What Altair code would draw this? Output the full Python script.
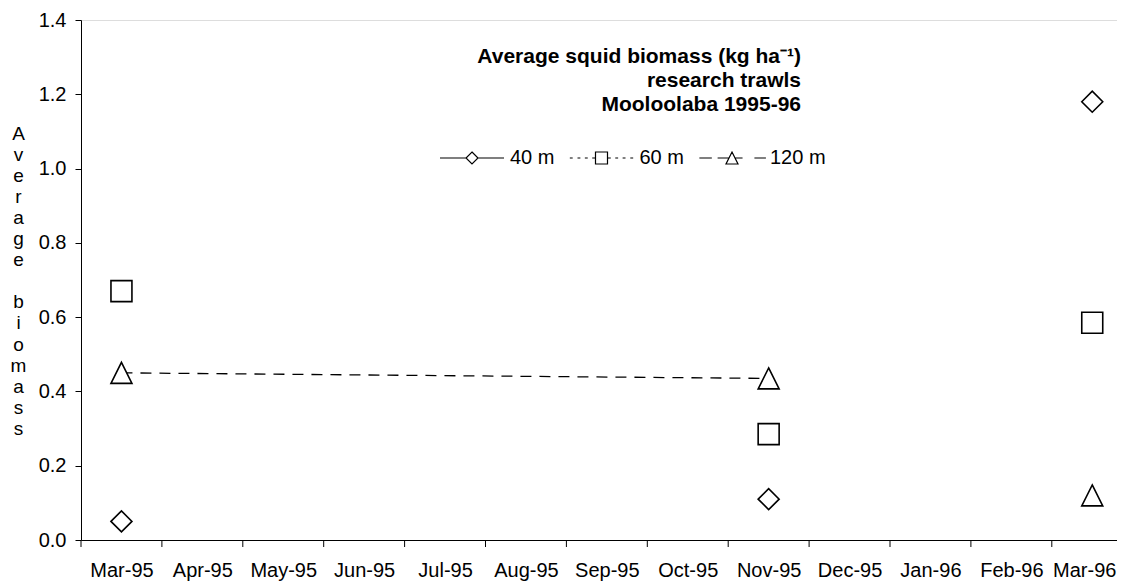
import altair as alt
import pandas as pd

# ---------------- data ----------------
months = ["Mar-95", "Apr-95", "May-95", "Jun-95", "Jul-95", "Aug-95", "Sep-95",
          "Oct-95", "Nov-95", "Dec-95", "Jan-96", "Feb-96", "Mar-96"]
series = ["40 m", "60 m", "120 m"]
survey_months = ["Mar-95", "Nov-95", "Mar-96"]
biomass_40 = [0.05, 0.11, 1.18]
biomass_60 = [0.67, 0.285, 0.585]
biomass_120 = [0.45, 0.435, 0.12]
y_ticks = [0.0, 0.2, 0.4, 0.6, 0.8, 1.0, 1.2, 1.4]
title_lines = ["Average squid biomass (kg ha\u207b\u00b9)", "research trawls", "Mooloolaba 1995-96"]
y_title = list("Average") + ["\u2800"] + list("biomass")

rows = []
for s, vals in zip(series, [biomass_40, biomass_60, biomass_120]):
    for m, v in zip(survey_months, vals):
        rows.append({"series": s, "month": m, "idx": months.index(m), "value": v})
df = pd.DataFrame(rows)
tick_df = pd.DataFrame({"month": months, "idx": list(range(len(months)))})
title_df = pd.DataFrame({"k": [0]})

# ---------------- style ----------------
FONT = "Liberation Sans"
W, H = 1036, 520
STEP = 80.9  # px per month in the reference
last = len(months) - 1

x_scale = alt.Scale(domain=[-0.5, -0.5 + W / STEP], nice=False, zero=False)
y_scale = alt.Scale(domain=[0, 1.4], nice=False, zero=True)

label_expr = "[" + ",".join("'%s'" % m for m in months) + "][datum.value]"

x_axis = alt.Axis(values=list(range(len(months))), labelExpr=label_expr, ticks=False, tickSize=0,
                  grid=False, title=None, labelFont=FONT, labelFontSize=20, labelColor="black",
                  labelPadding=20, domainColor="black", domainWidth=1, labelFlush=False,
                  labelOverlap=False,
                  labelOffset={"condition": {"test": f"datum.value == {last}", "value": -8},
                               "value": 0})
y_axis = alt.Axis(values=y_ticks, format=".1f", tickSize=6, tickColor="black", tickWidth=1,
                  domainColor="black", domainWidth=1, grid=False, labelFont=FONT,
                  labelFontSize=20, labelColor="black", labelPadding=9, labelFlush=False,
                  title=y_title, titleAngle=0, titleAlign="center", titleBaseline="middle",
                  titleX=-63, titleY=113, titleLineHeight=21.1, titleFont=FONT, titleFontSize=19,
                  titleFontWeight="normal", titleColor="black")

base = alt.Chart(df).encode(
    x=alt.X("idx:Q", scale=x_scale, axis=x_axis),
    y=alt.Y("value:Q", scale=y_scale, axis=y_axis),
)

line = base.transform_filter("datum.series == '120 m' && datum.idx <= 8").mark_line(
    color="black", strokeWidth=1.3, strokeDash=[11, 8]
)

tri_path = "M0,-1L1,1L-1,1Z"
points = base.mark_point(filled=True, fill="white", stroke="black", strokeWidth=1.6,
                         size=440, opacity=1).encode(
    shape=alt.Shape("series:N", scale=alt.Scale(domain=series, range=["diamond", "square", tri_path]),
                    legend=None)
)

m = 0.1875
legend_paths = [
    # 40 m : solid line with diamond
    f"M-1,0L-{m},0M{m},0L1,0M0,-{m}L{m},0L0,{m}L-{m},0Z",
    # 60 m : short dashes with square
    f"M-0.99,0L-0.9,0M-0.75,0L-0.66,0M-0.52,0L-0.43,0M-0.29,0L-{m},0"
    f"M{m},0L0.29,0M0.43,0L0.52,0M0.66,0L0.75,0M0.9,0L0.99,0"
    f"M-{m},-{m}L{m},-{m}L{m},{m}L-{m},{m}Z",
    # 120 m : long dashes with triangle
    "M-1.02,0L-0.63,0M-0.45,0L-0.094,0M0.094,0L0.33,0M0.70,0L1.06,0"
    f"M0,-{m}L{m},{m}L-{m},{m}Z",
]

# legend-only layer: no rows drawn, entries come from the explicit shape domain
legend_layer = base.transform_filter("false").mark_point(
    filled=False, color="black", strokeWidth=1.2, size=4096
).encode(
    shape=alt.Shape(
        "series:N",
        scale=alt.Scale(domain=series, range=legend_paths),
        legend=alt.Legend(title=None, orient="none", legendX=358, legendY=105,
                          direction="horizontal", columns=3, symbolSize=4096,
                          symbolStrokeColor="black", symbolStrokeWidth=1.2, symbolOpacity=1,
                          labelFont=FONT, labelFontSize=20, labelColor="black", labelOffset=5,
                          columnPadding=11.5, padding=0),
    )
)

ticks = alt.Chart(tick_df).transform_calculate(pos="datum.idx - 0.5").mark_rule(
    color="black", strokeWidth=1
).encode(
    x=alt.X("pos:Q", scale=x_scale, axis=x_axis),
    y=alt.value(H),
    y2=alt.value(H + 7),
)

title_text = alt.Chart(title_df).mark_text(
    text=title_lines, align="right", baseline="alphabetic", lineHeight=24,
    font=FONT, fontSize=21, fontWeight="bold", color="black"
).encode(x=alt.value(720), y=alt.value(43))

chart = alt.layer(line, ticks, points, legend_layer, title_text).resolve_scale(
    shape="independent"
).properties(
    width=W,
    height=H,
    autosize=alt.AutoSizeParams(type="none"),
    padding={"left": 73, "top": 12, "right": 0, "bottom": 42},
).configure_view(stroke=None).configure(background="white")

chart.save("out.html", embed_options={"renderer": "svg", "actions": False})
